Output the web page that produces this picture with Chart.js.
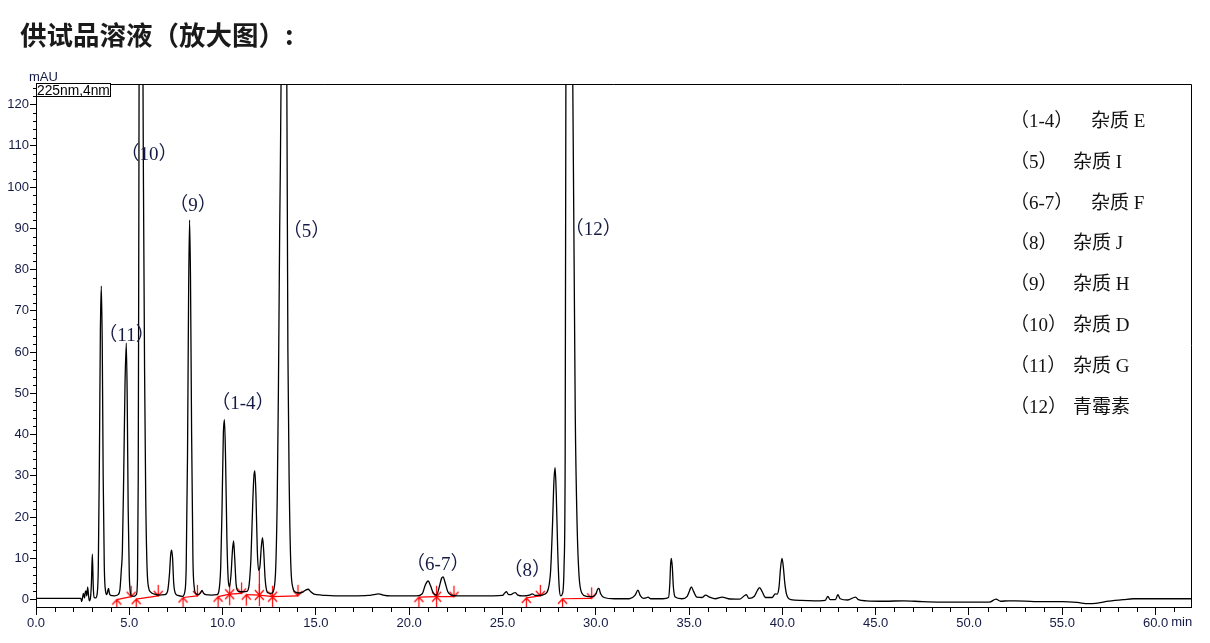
<!DOCTYPE html>
<html>
<head>
<meta charset="utf-8">
<script src="https://cdn.jsdelivr.net/npm/chart.js@4"></script>
<style>
  body { margin: 0; background: #fff; }
  #wrap { position: relative; width: 1210px; height: 643px; }
  #title { position: absolute; left: 20px; top: 20px; font: bold 26.5px/28px "Noto Sans CJK SC", sans-serif; color: #1a1a1a; }
  canvas { position: absolute; left: 0; top: 0; }
</style>
</head>
<body>
<div id="wrap">
  <canvas id="chart" width="1210" height="643"></canvas>
  <div id="title">供试品溶液（放大图）:</div>
</div>
<script>
// retention time (min) and signal (mAU)
const times = [
	0.0, 1.0, 2.0, 2.4, 2.45, 2.5, 2.54, 2.6, 2.64, 2.68, 2.72, 2.77, 2.82, 2.86, 2.92, 2.97, 3.02, 3.07, 3.12, 3.2, 3.28,
	3.34, 3.40, 3.45, 3.50, 3.55, 3.60, 3.66, 3.73, 3.80, 3.86, 3.89, 3.93, 4.0, 4.2, 4.4,
	4.5, 4.57, 4.63, 4.7, 4.77, 4.84, 4.89, 4.94, 5.0, 5.06, 5.12, 5.25,
	5.38, 5.44, 5.48, 5.51, 5.53, 5.62, 5.72, 5.76, 5.82, 5.88, 5.95, 6.03, 6.15, 6.35, 6.6, 6.9,
	7.05, 7.15, 7.22, 7.27, 7.32, 7.38, 7.46, 7.6, 7.85,
	7.98, 8.05, 8.12, 8.18, 8.23, 8.28, 8.34, 8.41, 8.48, 8.58, 8.7, 8.8, 8.9, 8.97, 9.1, 9.4, 9.7,
	9.8, 9.9, 9.97, 10.04, 10.1, 10.16, 10.23, 10.3, 10.37, 10.45, 10.53, 10.59, 10.65, 10.72, 10.8, 10.9, 11.1, 11.3,
	11.42, 11.52, 11.62, 11.68, 11.73, 11.79, 11.86, 11.93, 12.0, 12.08, 12.14, 12.2, 12.28, 12.36, 12.45, 12.6,
	12.75, 12.85, 12.93, 12.99, 13.06, 13.16, 13.3, 13.43, 13.5, 13.58, 13.66, 13.76, 13.9,
	14.1, 14.3, 14.45, 14.59, 14.7, 14.9, 15.3, 16.0, 17.0, 17.8, 18.1, 18.35, 18.6, 19.0, 19.8, 20.4,
	20.7, 20.87, 21.02, 21.14, 21.3, 21.47, 21.62, 21.74, 21.82, 21.92, 22.07, 22.25, 22.6, 23.5, 24.5,
	25.0, 25.12, 25.21, 25.33, 25.45, 25.6, 25.69, 25.82, 26.1, 26.45, 26.6, 26.75, 27.0, 27.25,
	27.45, 27.58, 27.68, 27.76, 27.82, 27.88, 27.96, 28.04, 28.12,
	28.22, 28.3, 28.36, 28.4, 28.58, 28.76, 28.9, 29.0, 29.1, 29.25, 29.5, 29.8,
	30.0, 30.1, 30.17, 30.26, 30.45, 31.0, 31.8, 32.1, 32.26, 32.38, 32.55, 32.7, 32.8, 32.95, 33.6,
	33.9, 33.97, 34.01, 34.05, 34.1, 34.16, 34.26, 34.6, 34.9, 35.03, 35.12, 35.24, 35.42, 35.7, 35.89, 36.1,
	36.4, 36.78, 37.1, 37.7, 37.98, 38.07, 38.2, 38.5, 38.66, 38.78, 38.92, 39.1, 39.45, 39.62, 39.72,
	39.82, 39.9, 39.98, 40.05, 40.13, 40.23, 40.45, 41.0, 42.0,
	42.3, 42.44, 42.56, 42.85, 42.97, 43.1, 43.5, 43.92, 44.07, 44.5, 45.5, 46.5, 47.5, 48.5, 50.0,
	51.1, 51.45, 51.7, 52.1, 52.5, 53.5, 55.0, 55.8, 56.4, 56.8, 57.5, 58.3, 58.8, 60.0, 61.9
];
const signal = [
	0.3, 0.3, 0.3, 0.3, -0.5, 0.6, 1.5, 0.4, 1.8, 2.1, 0.9, 3.0, 0.8, -0.3, 0.4, 4, 11.0, 3, 0.5, 0.4, 1.5,
	8, 35, 65, 76.0, 62, 30, 8, 2, 1.2, 2.4, 2.7, 1.6, 1.0, 0.9, 1.2,
	2.5, 7.0, 12, 30, 52, 62.2, 48, 22, 6, 1.6, 0.9, 0.8,
	1.2, 5, 30, 90, 140, 320, 140, 100, 55, 25, 8, 3, 1.8, 1.3, 1.1, 1.2,
	2.0, 6, 11, 12.0, 10, 4, 1.6, 1.0, 0.8,
	2, 8, 35, 75, 92.0, 78, 40, 10, 3, 1.4, 1.2, 1.5, 2.2, 1.6, 1.2, 1.1, 1.2,
	2, 8, 22, 40, 43.6, 34, 15, 5, 3.1, 6, 12, 14.2, 10, 4, 2.2, 1.9, 1.9, 2.0,
	3.5, 10, 24, 30, 31.2, 25, 12, 7.1, 8, 13, 15.0, 12, 5, 2.2, 1.6, 1.5,
	2.5, 8, 25, 50, 90, 140, 330, 140, 60, 25, 8, 3, 1.8,
	1.6, 1.8, 2.3, 2.5, 2.0, 1.3, 1.1, 0.9, 0.9, 1.0, 1.2, 1.4, 1.1, 0.9, 0.9, 0.9,
	1.4, 3.6, 4.5, 3.4, 1.5, 1.1, 3.2, 5.2, 5.5, 4.2, 1.9, 1.1, 0.9, 0.9, 0.9,
	1.0, 1.6, 1.9, 1.2, 1.2, 1.6, 1.7, 1.1, 0.9, 1.1, 1.4, 1.0, 1.0, 1.3,
	2.5, 7, 18, 29, 32.0, 26, 12, 3, 0.9,
	1.5, 8, 35, 130, 360, 130, 45, 18, 6, 1.6, 0.8, 0.7,
	1.3, 2.5, 2.7, 1.4, 0.5, 0.2, 0.2, 1.0, 2.3, 1.0, 0.3, 0.4, 0.6, 0.2, 0.2,
	0.5, 4, 8.5, 10.0, 8, 3, 0.6, 0.2, 0.8, 2.2, 3.1, 2.0, 0.6, 0.5, 1.1, 0.6,
	0.2, 0.6, 0.2, 0.1, 1.0, 1.2, 0.3, 0.8, 2.2, 2.9, 1.9, 0.5, 0.5, 1.4, 1.3,
	3, 7.5, 10.0, 8, 4, 1.2, 0.0, -0.2, -0.3,
	-0.2, 0.8, 0.0, 0.0, 1.2, 0.2, -0.1, 0.6, 0.0, -0.3, -0.4, -0.3, -0.5, -0.6, -0.6,
	-0.6, 0.1, -0.4, -0.3, -0.3, -0.5, -0.5, -0.7, -1.0, -0.9, -0.4, 0.0, 0.2, 0.2, 0.2
];

// integration baselines (null = break between segments)
const baseTimes = [4.33, 5.10, null, 5.37, 6.55, null, 7.88, 8.65, null, 9.76, 10.38, 11.02, null,
	11.27, 11.97, 12.68, 14.04, null, 11.97, 11.97, null, 20.52, 21.47, 22.40, null, 26.28, 27.03, null, 28.22, 29.78];
const baseValues = [0.0, 0.7, null, 0.1, 0.9, null, 0.5, 0.9, null, 0.7, 1.3, 1.5, null,
	1.2, 1.1, 0.7, 0.9, null, 1.1, 7.1, null, 0.6, 0.7, 0.7, null, 0.4, 0.9, null, 0.2, 0.3];

// peak start / end marks
const markTimes = [4.33, 5.10, 5.37, 6.55, 7.88, 8.65, 9.76, 10.38, 11.02, 11.27, 11.97, 12.68, 14.04,
	20.52, 21.47, 22.40, 26.28, 27.03, 28.22, 29.78];
const markValues = [0.0, 0.7, 0.1, 0.9, 0.5, 0.9, 0.7, 1.3, 1.5, 1.2, 1.1, 0.7, 0.9,
	0.6, 0.7, 0.7, 0.4, 0.9, 0.2, 0.3];
const markKinds = ["start", "end", "start", "end", "start", "end", "start", "both", "end", "start", "both", "both", "end",
	"start", "both", "end", "start", "end", "start", "end"];

// peak labels, placed at (min, mAU)
const peakTexts = ["（10）", "（9）", "（5）", "（11）", "（1-4）", "（6-7）", "（8）", "（12）"];
const peakTimes = [6.05, 8.41, 14.5, 4.85, 11.09, 21.53, 26.33, 29.86];
const peakLevels = [107.9, 95.5, 89.1, 64.0, 47.3, 8.3, 6.9, 89.5];

const legendCodes = ["（1-4）", "（5）", "（6-7）", "（8）", "（9）", "（10）", "（11）", "（12）"];
const legendNames = ["杂质 E", "杂质 I", "杂质 F", "杂质 J", "杂质 H", "杂质 D", "杂质 G", "青霉素"];

const xMin = 0, xMax = 61.9, xStep = 5, xMinor = 1;
const yMin = -1.8, yMax = 125, yStep = 10, yMinor = 2;

const SANS = "'Liberation Sans', Arial, sans-serif";
const SERIF = "'Liberation Serif', 'Noto Sans CJK SC', serif";
const LABEL_COLOR = "#141a44";

const arrowImage = (kind) => {
	const c = document.createElement("canvas");
	c.width = 13;
	c.height = 24;
	const g = c.getContext("2d");
	g.strokeStyle = "#ff0000";
	g.lineWidth = 1.2;
	const cx = 6.5, cy = 12;
	g.beginPath();
	if (kind !== "start") {
		g.moveTo(cx, cy - 11); g.lineTo(cx, cy);
		g.moveTo(cx - 4.5, cy - 5); g.lineTo(cx, cy); g.lineTo(cx + 4.5, cy - 5);
	}
	if (kind !== "end") {
		g.moveTo(cx, cy + 11); g.lineTo(cx, cy);
		g.moveTo(cx - 4.5, cy + 5); g.lineTo(cx, cy); g.lineTo(cx + 4.5, cy + 5);
	}
	g.stroke();
	return c;
};
const markImages = { start: arrowImage("start"), end: arrowImage("end"), both: arrowImage("both") };

const decorations = {
	id: "decorations",
	afterDraw(chart) {
		const { ctx, chartArea: a, scales: { x, y } } = chart;
		ctx.save();
		ctx.strokeStyle = "#000";
		ctx.lineWidth = 1;
		// top and right frame
		ctx.beginPath();
		ctx.moveTo(a.left, a.top + 0.5);
		ctx.lineTo(a.right + 0.5, a.top + 0.5);
		ctx.lineTo(a.right + 0.5, a.bottom);
		ctx.stroke();
		// minor ticks
		ctx.beginPath();
		for (let t = xMin + xMinor; t <= xMax; t += xMinor) {
			if (t % xStep === 0) continue;
			const px = Math.round(x.getPixelForValue(t)) + 0.5;
			ctx.moveTo(px, a.bottom);
			ctx.lineTo(px, a.bottom + 5);
		}
		for (let v = yMinor; v <= yMax; v += yMinor) {
			if (v % yStep === 0) continue;
			const py = Math.round(y.getPixelForValue(v)) + 0.5;
			ctx.moveTo(a.left - 3, py);
			ctx.lineTo(a.left, py);
		}
		ctx.stroke();

		// unit labels
		ctx.fillStyle = LABEL_COLOR;
		ctx.font = `13px ${SANS}`;
		ctx.textBaseline = "alphabetic";
		ctx.textAlign = "left";
		ctx.fillText("mAU", 29, 81);
		const last = x.getPixelForValue(60);
		ctx.textBaseline = "top";
		const lastW = ctx.measureText("60.0").width;
		ctx.fillText("min", last + lastW / 2 + 3, a.bottom + 9);

		// detector box
		ctx.fillStyle = "#fff";
		ctx.fillRect(a.left, a.top - 1, 74, 13);
		ctx.strokeRect(a.left + 0.5, a.top - 0.5, 74, 13);
		ctx.fillStyle = "#000";
		ctx.font = `13.8px ${SANS}`;
		ctx.textBaseline = "alphabetic";
		ctx.fillText("225nm,4nm", a.left + 1, a.top + 10.5);

		// peak labels
		ctx.font = `19px ${SERIF}`;
		ctx.fillStyle = LABEL_COLOR;
		ctx.textAlign = "center";
		ctx.textBaseline = "middle";
		peakTexts.forEach((txt, i) => {
			ctx.fillText(txt, x.getPixelForValue(peakTimes[i]), y.getPixelForValue(peakLevels[i]));
		});

		// legend list
		ctx.fillStyle = "#111";
		ctx.textAlign = "left";
		legendCodes.forEach((code, i) => {
			const yy = 122 + i * 40.8;
			ctx.fillText(code, 1010, yy);
			const w = ctx.measureText(code).width;
			ctx.fillText(legendNames[i], w > 60 ? 1091 : 1073, yy);
		});
		ctx.restore();
	},
};

window.onload = () => {
	const canvas = document.getElementById("chart");
	const trace = times.map((t, i) => ({ x: t, y: signal[i] }));
	const baseline = baseTimes.map((t, i) => ({ x: t === null ? NaN : t, y: baseValues[i] }));
	const marks = markTimes.map((t, i) => ({ x: t, y: markValues[i] }));

	new Chart(canvas, {
		type: "line",
		data: {
			datasets: [
				{
					data: baseline,
					borderColor: "#ff0000",
					borderWidth: 1.2,
					pointRadius: 0,
					tension: 0,
					spanGaps: false,
					order: 1,
				},
				{
					type: "scatter",
					data: marks,
					pointStyle: (c) => markImages[markKinds[c.dataIndex]],
					pointRadius: 6,
					showLine: false,
					order: 2,
				},
				{
					data: trace,
					borderColor: "#000",
					borderWidth: 1.3,
					pointRadius: 0,
					cubicInterpolationMode: "monotone",
					order: 0,
				},
			],
		},
		plugins: [decorations],
		options: {
			responsive: false,
			animation: false,
			events: [],
			layout: { padding: { top: 84, right: 19, left: 0, bottom: 0 } },
			plugins: { legend: { display: false }, tooltip: { enabled: false }, title: { display: false } },
			scales: {
				x: {
					type: "linear",
					min: xMin,
					max: xMax,
					afterFit: (scale) => { scale.height = 36; },
					border: { display: true, color: "#000", width: 1 },
					grid: { drawOnChartArea: false, drawTicks: true, tickLength: 8, tickColor: "#000" },
					ticks: {
						stepSize: xStep,
						includeBounds: false,
						autoSkip: false,
						maxRotation: 0,
						padding: 1,
						color: LABEL_COLOR,
						font: { family: SANS, size: 13 },
						callback: (val) => val.toFixed(1),
					},
				},
				y: {
					type: "linear",
					min: yMin,
					max: yMax,
					afterFit: (scale) => { scale.width = 36; },
					border: { display: true, color: "#000", width: 1 },
					grid: { drawOnChartArea: false, drawTicks: true, tickLength: 6, tickColor: "#000" },
					ticks: {
						stepSize: yStep,
						includeBounds: false,
						padding: 1,
						color: LABEL_COLOR,
						font: { family: SANS, size: 13 },
						callback: (val) => String(val),
					},
				},
			},
		},
	});
};
</script>
</body>
</html>
